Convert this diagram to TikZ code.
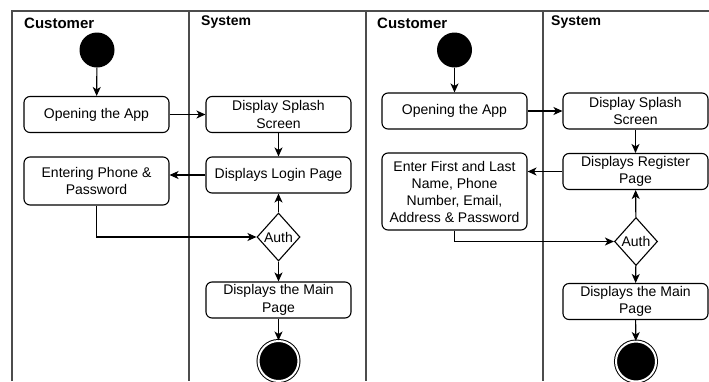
\documentclass[tikz,border=0pt]{standalone}
\usepackage{fontspec}
\setmainfont{Liberation Sans}
\usetikzlibrary{arrows.meta,shapes.geometric}

\begin{document}
\begin{tikzpicture}[x=1pt,y=-1pt,
    lane/.style={draw=black!70,line width=1.4pt},
    lanehead/.style={anchor=west,inner sep=0pt,font=\bfseries\fontsize{14}{14}\selectfont},
    act/.style={draw,rounded corners=6pt,line width=1.1pt,minimum width=145pt,
      minimum height=36pt,inner sep=1pt,align=center,
      font=\fontsize{14}{17.5}\selectfont},
    dec/.style={draw,diamond,line width=1.1pt,minimum width=43pt,
      minimum height=48pt,inner sep=0pt,font=\fontsize{14}{14}\selectfont},
    init/.style={circle,fill=black,minimum size=35pt,inner sep=0pt},
    final/.style={circle,draw,line width=1pt,double=white,double distance=2pt,
      fill=black,minimum size=40pt,inner sep=0pt}]
  \clip (0,0) rectangle (709,381);
  \useasboundingbox (0,0) rectangle (709,381);

  % swimlanes
  \draw[lane] (12,381) -- (12,11) -- (709,11);
  \draw[lane] (189,11) -- (189,381);
  \draw[lane] (366,11) -- (366,381);
  \draw[lane] (543,11) -- (543,381);
  \node[lanehead,font=\bfseries\fontsize{15}{15}\selectfont] (cust1) at (24,23) {Customer};
  \node[lanehead] (sys1) at (201,22) {System};
  \node[lanehead,font=\bfseries\fontsize{15}{15}\selectfont] (cust2) at (377,23) {Customer};
  \node[lanehead] (sys2) at (551,22) {System};

  % login flow
  \node[init] (start1) at (97,50) {};
  \node[act] (open1) at (96.5,114.5) {Opening the App};
  \node[act] (splash1) at (278.5,114.5) {Display Splash\\Screen};
  \node[act] (login1) at (278.5,175) {Displays Login Page};
  \node[act,minimum height=48pt] (enter1) at (96.5,181) {Entering Phone \&\\Password};
  \node[dec] (auth1) at (278.5,237) {Auth};
  \node[act] (main1) at (278.5,300) {Displays the Main\\Page};
  \node[final] (end1) at (278.5,361) {};

  % register flow
  \node[init] (start2) at (454.5,50) {};
  \node[act] (open2) at (454.5,111) {Opening the App};
  \node[act] (splash2) at (635.5,111) {Display Splash\\Screen};
  \node[act] (register2) at (635.5,171.5) {Displays Register\\Page};
  \node[act,minimum height=77pt,font=\fontsize{14}{17}\selectfont] (enter2) at (454.5,191.5)
    {Enter First and Last\\Name, Phone\\Number, Email,\\Address \& Password};
  \node[dec] (auth2) at (636,241.5) {Auth};
  \node[act] (main2) at (635.5,301.5) {Displays the Main\\Page};
  \node[final] (end2) at (636,361.5) {};

  \begin{scope}[-{Stealth[length=9pt,width=8pt,inset=2.5pt]},line width=1.1pt]
    \draw (start1) -- (open1);
    \draw (open1) -- (splash1);
    \draw (splash1) -- (login1);
    \draw (login1.west) -- (login1.west -| enter1.east);
    \draw (enter1) |- (auth1);
    \draw (auth1) -- (login1);
    \draw (auth1) -- (main1);
    \draw (main1) -- (end1);
    \draw (start2) -- (open2);
    \draw (open2) -- (splash2);
    \draw (splash2) -- (register2);
    \draw (register2.west) -- (register2.west -| enter2.east);
    \draw (enter2) |- (auth2);
    \draw (auth2) -- (register2);
    \draw (auth2) -- (main2);
    \draw (main2) -- (end2);
  \end{scope}
\end{tikzpicture}
\end{document}
